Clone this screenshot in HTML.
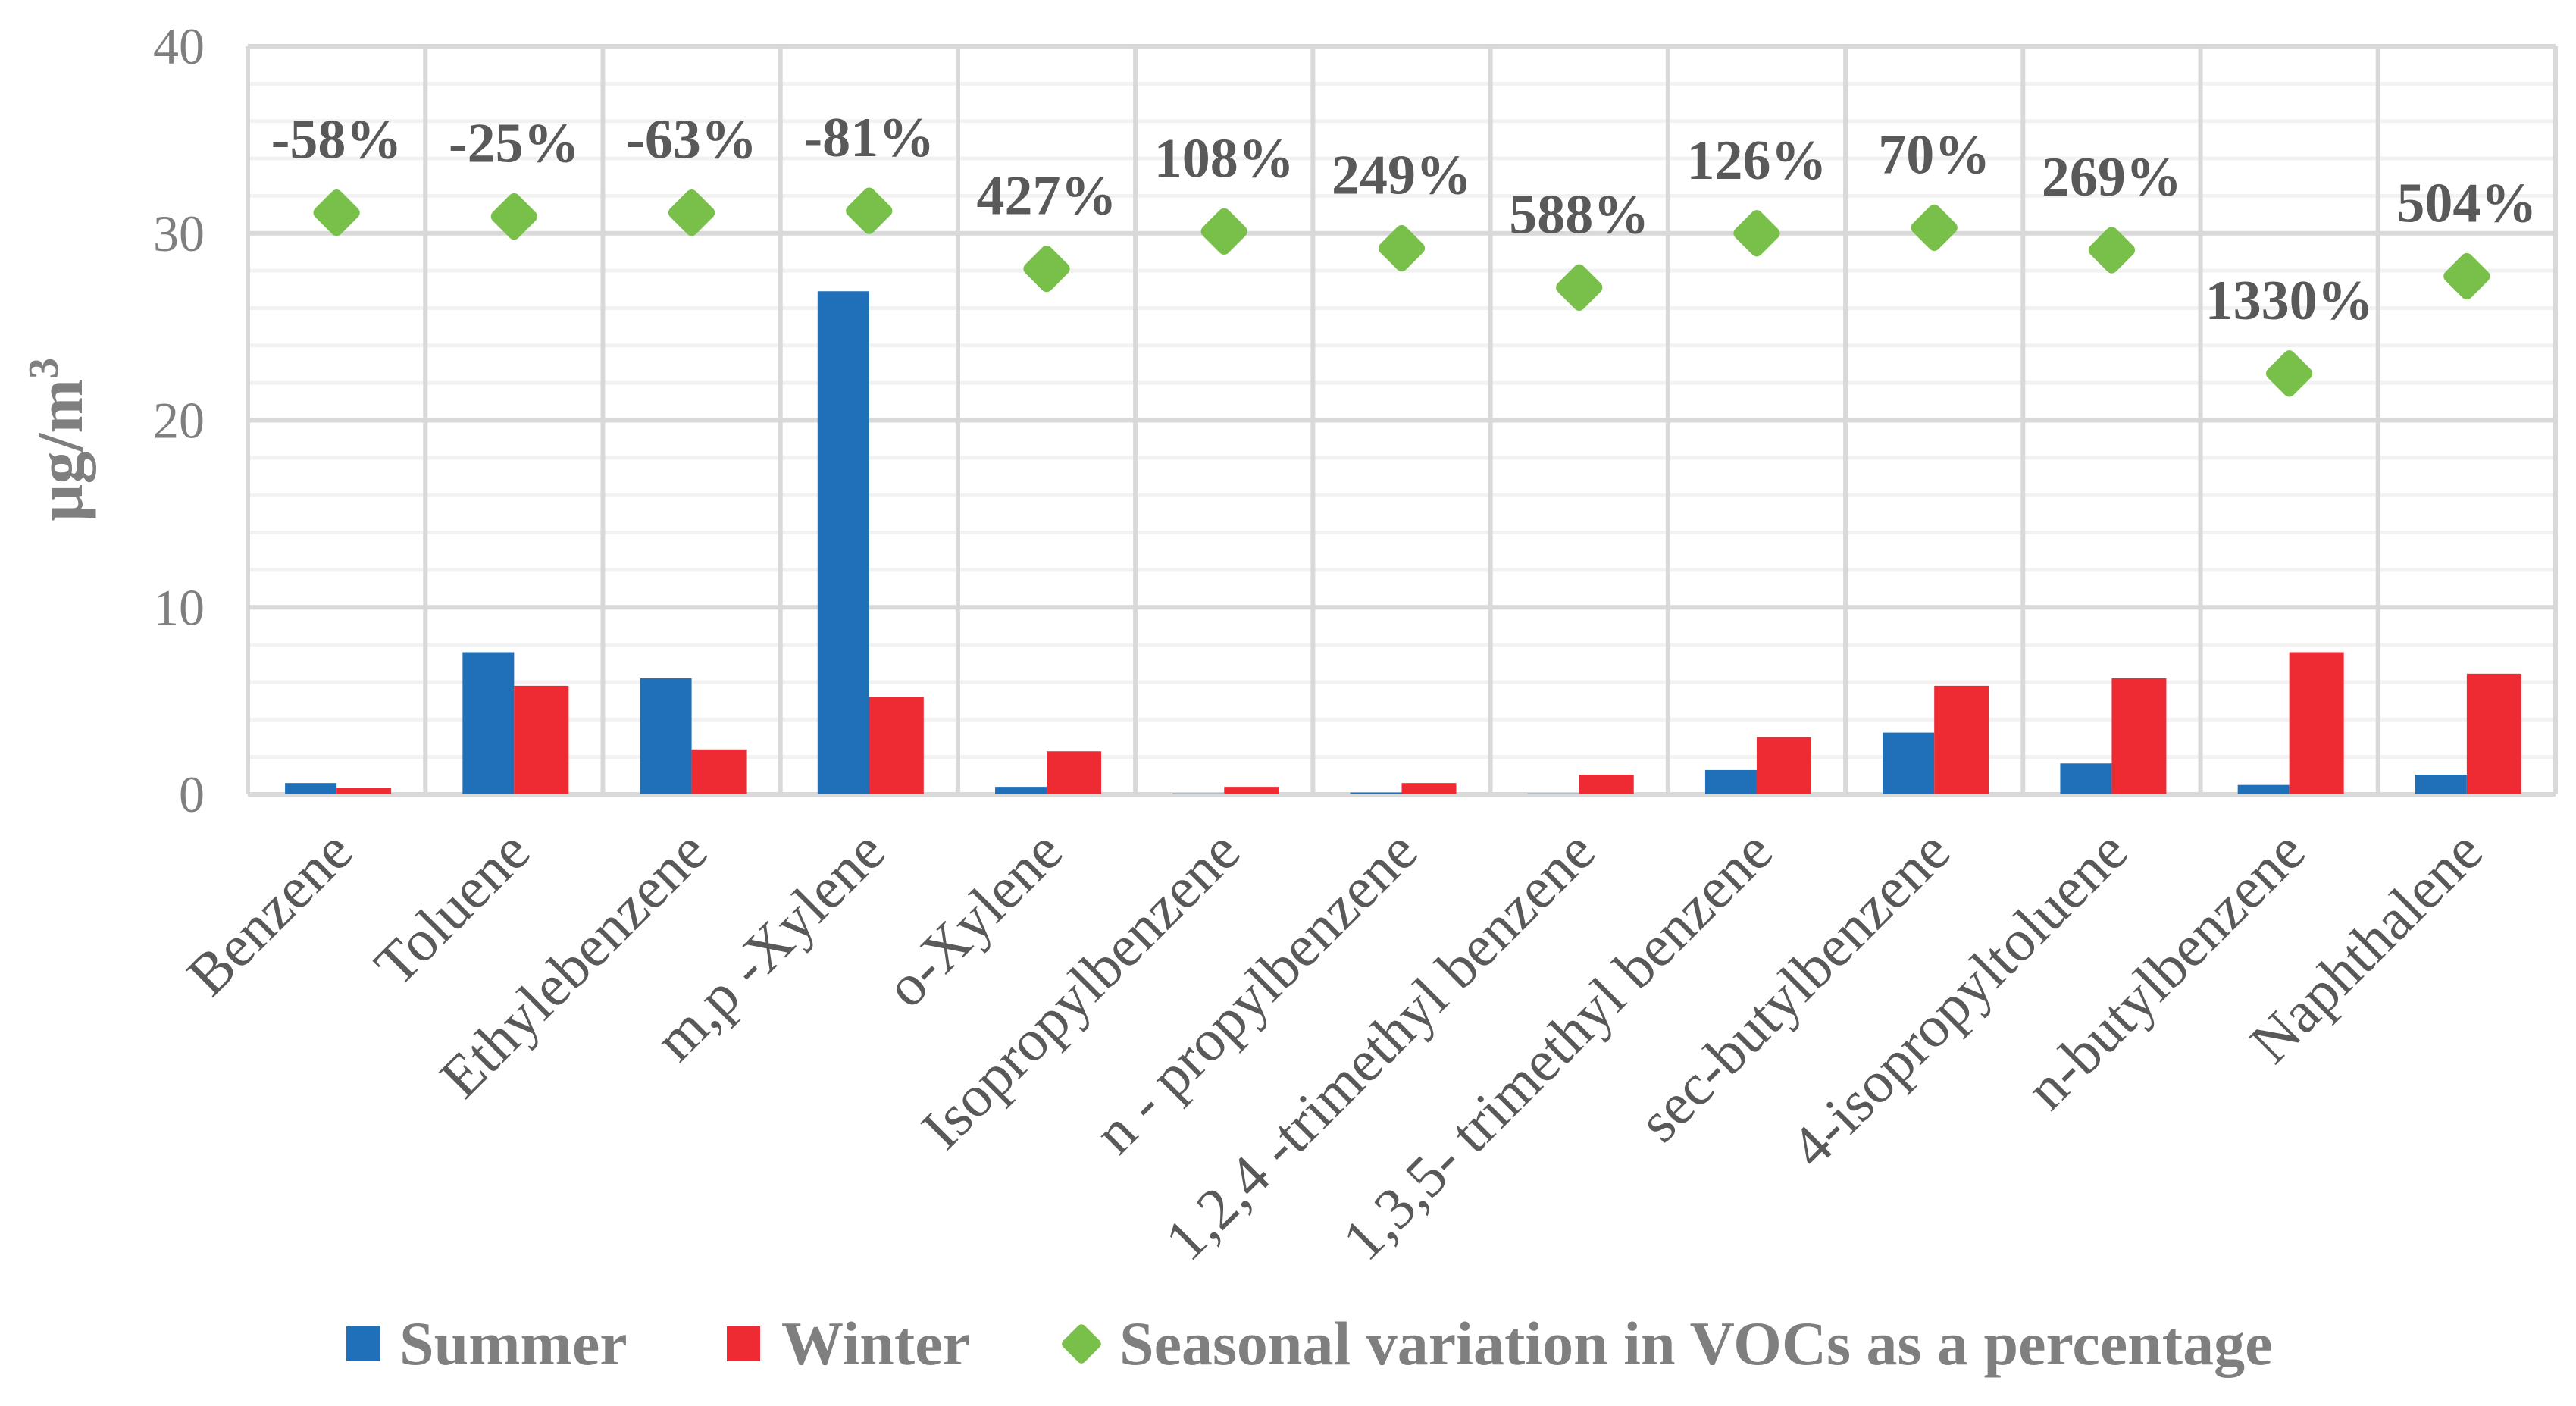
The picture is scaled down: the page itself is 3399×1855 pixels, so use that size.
<!DOCTYPE html>
<html><head><meta charset="utf-8"><style>
html,body{margin:0;padding:0;background:#fff}
svg{display:block}
text{font-family:"Liberation Serif",serif}
</style></head><body>
<svg id="chart" width="3399" height="1855" viewBox="0 0 3399 1855" xmlns="http://www.w3.org/2000/svg">
<g id="grid"></g>
<g id="bars"></g>
<g id="pts"></g>
<g id="axes"></g>
<text transform="translate(108,580) rotate(-90)" text-anchor="middle" font-size="86" font-weight="bold" fill="#7f7f7f">µg/m<tspan font-size="56" dy="-32">3</tspan></text>
<g font-size="82" font-weight="bold" fill="#7f7f7f">
<rect x="457" y="1750" width="44" height="46" fill="#1f70b8"/>
<text x="527" y="1800">Summer</text>
<rect x="959" y="1750" width="44" height="46" fill="#ee2a33"/>
<text x="1031" y="1800">Winter</text>
<rect x="1407" y="1753" width="40" height="40" rx="6" fill="#78c04a" transform="rotate(45 1427 1773)"/>
<text x="1477" y="1800">Seasonal variation in VOCs as a percentage</text>
</g>
</svg>
<script>
const categories=["Benzene","Toluene","Ethylebenzene","m,p -Xylene","o-Xylene","Isopropylbenzene","n - propylbenzene","1,2,4 -trimethyl benzene","1,3,5- trimethyl benzene","sec-butylbenzene","4-isopropyltoluene","n-butylbenzene","Naphthalene"];
const summer=[0.6,7.6,6.2,26.9,0.4,0.05,0.1,0.05,1.3,3.3,1.65,0.5,1.05];
const winter=[0.35,5.8,2.4,5.2,2.3,0.4,0.6,1.05,3.05,5.8,6.2,7.6,6.45];
const variation=[31.1,30.9,31.1,31.2,28.1,30.1,29.2,27.1,30.0,30.3,29.1,22.5,27.7];
const variationLabels=["-58%","-25%","-63%","-81%","427%","108%","249%","588%","126%","70%","269%","1330%","504%"];
const yTicks=[0,10,20,30,40];

const NS="http://www.w3.org/2000/svg";
const L=327,R=3372,T=61,B=1048,YMAX=40;
const cw=(R-L)/categories.length;
const y=v=>B-(v/YMAX)*(B-T);
const xc=i=>L+cw*(i+0.5);
function mk(tag,attrs,parent){const e=document.createElementNS(NS,tag);for(const k in attrs)e.setAttribute(k,attrs[k]);parent.appendChild(e);return e;}
const grid=document.getElementById('grid'),bars=document.getElementById('bars'),pts=document.getElementById('pts'),axes=document.getElementById('axes');
for(let v=0;v<=YMAX;v+=2){
  if(v%10===0)continue;
  const l=mk('line',{x1:L,x2:R,y1:y(v),y2:y(v),stroke:'#f2f2f2','stroke-width':5},grid);
  
  
}
yTicks.forEach(v=>{
  const l=mk('line',{x1:L,x2:R,y1:y(v),y2:y(v),stroke:'#d9d9d9','stroke-width':6},grid);
  
  
  const t=mk('text',{x:270,y:y(v)+23,'text-anchor':'end','font-size':68,fill:'#7f7f7f'},axes);
  t.textContent=v;
  
  
});
for(let i=0;i<=categories.length;i++){
  const x=L+cw*i;
  const l=mk('line',{x1:x,x2:x,y1:T,y2:B,stroke:'#d9d9d9','stroke-width':6},grid);
  
  
}
const bw=68;
categories.forEach((c,i)=>{
  const cx=xc(i);
  const b1=mk('rect',{x:cx-bw,y:y(summer[i]),width:bw,height:B-y(summer[i]),fill:'#1f70b8'},bars);
  
  
  const b2=mk('rect',{x:cx,y:y(winter[i]),width:bw+4,height:B-y(winter[i]),fill:'#ee2a33'},bars);
  
  
  const py=y(variation[i]);
  const d=mk('rect',{x:cx-24,y:py-24,width:48,height:48,rx:8,fill:'#78c04a',transform:`rotate(45 ${cx} ${py})`},pts);
  
  
  const lt=mk('text',{x:cx,y:py-72,'text-anchor':'middle','font-size':74,'font-weight':'bold',fill:'#595959'},pts);
  lt.textContent=variationLabels[i];
  
  
  const xt=mk('text',{x:0,y:0,'text-anchor':'end','font-size':78,fill:'#595959',transform:`translate(${cx+25},${B+80}) rotate(-45)`},axes);
  xt.textContent=c;
  
  
});
</script>
</body></html>
